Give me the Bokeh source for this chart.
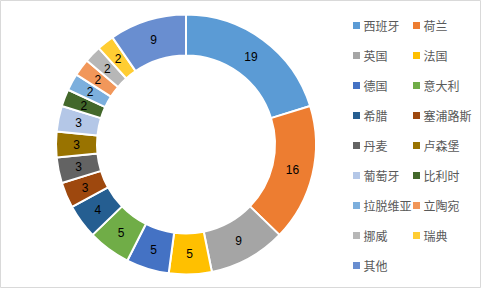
import numpy as np
from bokeh.plotting import figure
from bokeh.models import ColumnDataSource, Range1d
from bokeh.core.properties import value
from bokeh.embed import file_html
from bokeh.resources import INLINE

# ---- data ----
countries = ["西班牙", "荷兰", "英国", "法国", "德国", "意大利", "希腊", "塞浦路斯",
             "丹麦", "卢森堡", "葡萄牙", "比利时", "拉脱维亚", "立陶宛", "挪威", "瑞典", "其他"]
counts = [19, 16, 9, 5, 5, 5, 4, 3, 3, 3, 3, 2, 2, 2, 2, 2, 9]
colors = ["#5B9BD5", "#ED7D31", "#A5A5A5", "#FFC000", "#4472C4", "#70AD47",
          "#255E91", "#9E480E", "#636363", "#997300", "#B4C7E7", "#43682B",
          "#7CAFDD", "#F1975A", "#B7B7B7", "#FFCD33", "#698ED0"]

# ---- layout ----
W, H = 481, 288
cx, cy = 185.5, 144.0
r_in, r_out = 89.0, 130.0

vals = np.array(counts, dtype=float)
cum = np.concatenate([[0.0], np.cumsum(vals)])
frac = cum / cum[-1]
start = np.pi / 2 - 2 * np.pi * frac[:-1]
end = np.pi / 2 - 2 * np.pi * frac[1:]
mid = (start + end) / 2
rm = (r_in + r_out) / 2

src = ColumnDataSource(dict(
    x=[cx] * len(counts), y=[cy] * len(counts),
    start=start, end=end, color=colors,
    lx=cx + rm * np.cos(mid), ly=cy + rm * np.sin(mid),
    label=[str(c) for c in counts],
))

idx = np.arange(len(countries))
row = idx // 2
col = idx % 2
leg = ColumnDataSource(dict(
    sx=356 + 60 * col, tx=363 + 60 * col,
    y=H - (25 + 30 * row),
    name=countries, color=colors,
))

p = figure(width=W, height=H, x_range=Range1d(0, W), y_range=Range1d(0, H),
           output_backend="svg", toolbar_location=None, min_border=0,
           x_axis_type=None, y_axis_type=None)
p.grid.visible = False
p.outline_line_color = "#D9D9D9"
p.outline_line_width = 1
p.background_fill_color = "white"
p.border_fill_color = "white"

p.annular_wedge(x="x", y="y", inner_radius=r_in, outer_radius=r_out,
                start_angle="start", end_angle="end", direction="clock",
                fill_color="color", line_color="white", line_width=2, source=src)

p.text(x="lx", y="ly", text="label", source=src, text_align="center",
       text_baseline="middle", text_font=value("Liberation Sans"),
       text_font_size="12px", text_color="black")

p.scatter(x="sx", y="y", marker="square", size=7, fill_color="color",
          line_color=None, source=leg)
p.text(x="tx", y="y", text="name", source=leg, text_align="left",
       text_baseline="middle", text_font=value("Noto Sans CJK SC"),
       text_font_size="12px", text_color="#595959")

open("out.html", "w").write(file_html(p, INLINE))
